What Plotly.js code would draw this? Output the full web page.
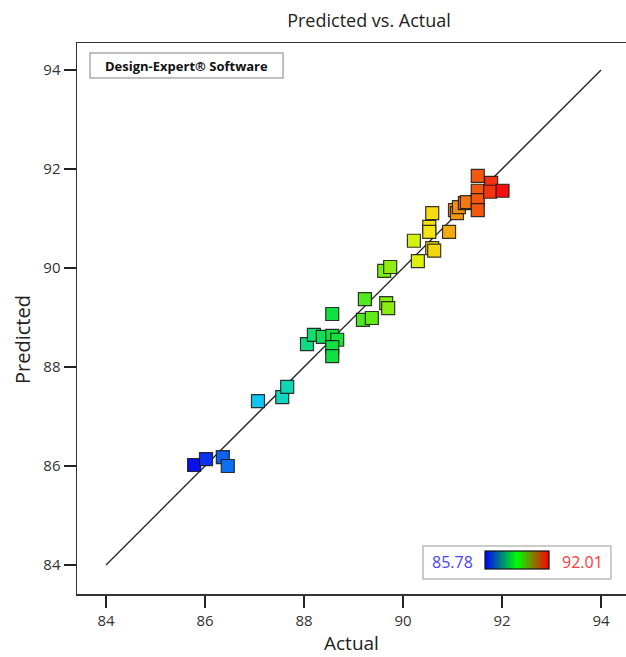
<!DOCTYPE html>
<html>
<head>
<meta charset="utf-8">
<script src="https://cdn.plot.ly/plotly-3.0.1.min.js"></script>
<style>
html,body{margin:0;padding:0;overflow:hidden;background:#fff;width:626px;height:657px;}
#chart{width:640px;height:657px;}
</style>
</head>
<body>
<div id="chart"></div>
<script>
// Data
const actual = [85.78, 86.02, 86.36, 86.46, 87.07, 87.56, 87.66, 88.06, 88.20, 88.38,
                88.57, 88.67, 88.57, 88.57, 88.57, 89.19, 89.37, 89.23, 89.66, 89.70,
                89.62, 89.74, 90.30, 90.22, 90.59, 90.63, 90.53, 90.53, 90.59, 90.93,
                91.05, 91.09, 91.13, 91.25, 91.29, 91.51, 91.51, 91.51, 91.51, 91.78,
                91.76, 92.01];
const predicted = [86.02, 86.14, 86.18, 86.00, 87.31, 87.39, 87.60, 88.46, 88.65, 88.61,
                   88.63, 88.55, 88.40, 88.22, 89.07, 88.95, 88.99, 89.37, 89.29, 89.19,
                   89.94, 90.02, 90.14, 90.55, 90.40, 90.35, 90.83, 90.73, 91.11, 90.73,
                   91.17, 91.11, 91.23, 91.31, 91.33, 91.86, 91.56, 91.37, 91.17, 91.72,
                   91.54, 91.56];
const diagX = [84, 94];
const diagY = [84, 94];
const tickVals = [84, 86, 88, 90, 92, 94];
const tickText = ['84', '86', '88', '90', '92', '94'];
const colorMin = 85.78;
const colorMax = 92.01;

const pointScale = [[0,'#0a10f0'],[0.22,'#10d0f4'],[0.45,'#10e040'],[0.6,'#70ee10'],[0.75,'#f4f010'],[1,'#f41010']];
const barScale = [[0,'#0000ff'],[0.5,'#00ff00'],[1,'#ff0000']];

const font = '"Open Sans", "Noto Sans", sans-serif';

const traces = [
  {
    x: diagX, y: diagY, mode: 'lines', type: 'scatter',
    line: {color: '#222', width: 1.3}, hoverinfo: 'skip', showlegend: false
  },
  {
    x: actual, y: predicted, mode: 'markers', type: 'scatter',
    marker: {
      symbol: 'square', size: 13, color: actual, cmin: colorMin, cmax: colorMax,
      colorscale: pointScale, showscale: false,
      line: {color: 'rgba(20,20,20,0.85)', width: 1.2}
    },
    showlegend: false
  },
  {
    x: [actual[0], actual[actual.length-1]], y: [predicted[0], predicted[predicted.length-1]],
    mode: 'markers', type: 'scatter', hoverinfo: 'skip', showlegend: false,
    marker: {
      size: 0.1, opacity: 0, color: [colorMin, colorMax], cmin: colorMin, cmax: colorMax,
      colorscale: barScale, showscale: true,
      colorbar: {
        orientation: 'h', x: 0.7405, xanchor: 'left', y: 0.078, yanchor: 'top',
        len: 64, lenmode: 'pixels', thickness: 18, thicknessmode: 'pixels',
        xpad: 0, ypad: 0, outlinecolor: '#111', outlinewidth: 1.2,
        showticklabels: false, ticks: '', bgcolor: 'rgba(0,0,0,0)', borderwidth: 0
      }
    }
  }
];

const axisCommon = {
  range: [83.414, 94.545], tickvals: tickVals, ticktext: tickText,
  ticks: 'outside', ticklen: 12, tickwidth: 1.3, tickcolor: '#222',
  showline: true, linecolor: '#333', linewidth: 1.5, mirror: true,
  showgrid: false, zeroline: false,
  tickfont: {family: font, size: 15, color: '#333'}
};

const layout = {
  width: 640, height: 657,
  margin: {l: 77, r: 12, t: 43, b: 63},
  paper_bgcolor: '#fff', plot_bgcolor: '#fff',
  showlegend: false,
  title: {
    text: 'Predicted vs. Actual', font: {family: font, size: 18, color: '#222'},
    x: 369/640, xref: 'container', xanchor: 'center', y: 1 - 21/657, yref: 'container', yanchor: 'middle'
  },
  xaxis: Object.assign({}, axisCommon, {title: {text: ''}}),
  yaxis: Object.assign({}, axisCommon, {title: {text: ''}}),
  shapes: [
    {type: 'rect', xref: 'paper', yref: 'paper', x0: 0.0236, x1: 0.374, y0: 0.9365, y1: 0.982,
     line: {color: '#aaa', width: 1.5}, fillcolor: '#fff', layer: 'below'},
    {type: 'rect', xref: 'paper', yref: 'paper', x0: 0.628, x1: 0.969, y0: 0.0272, y1: 0.0871,
     line: {color: '#bbb', width: 1.5}, fillcolor: '#fff', layer: 'below'}
  ],
  annotations: [
    {text: '<b>Design-Expert® Software</b>', xref: 'paper', yref: 'paper',
     x: (186-77)/551, y: (594-66)/551, xanchor: 'center', yanchor: 'middle', showarrow: false,
     font: {family: font, size: 13, color: '#111'}},
    {text: '85.78', xref: 'paper', yref: 'paper', x: (452-77)/551, y: (594-562)/551,
     xanchor: 'center', yanchor: 'middle', showarrow: false,
     font: {family: font, size: 16, color: '#4646ff'}},
    {text: '92.01', xref: 'paper', yref: 'paper', x: (582-77)/551, y: (594-562)/551,
     xanchor: 'center', yanchor: 'middle', showarrow: false,
     font: {family: font, size: 16, color: '#ff3a3a'}},
    {text: 'Actual', xref: 'paper', yref: 'paper', x: (351-77)/551, y: (594-643)/551,
     xanchor: 'center', yanchor: 'middle', showarrow: false,
     font: {family: font, size: 19, color: '#222'}},
    {text: 'Predicted', xref: 'paper', yref: 'paper', x: (22-77)/551, y: (594-340)/551,
     xanchor: 'center', yanchor: 'middle', showarrow: false, textangle: -90,
     font: {family: font, size: 20, color: '#222'}}
  ]
};

Plotly.newPlot('chart', traces, layout, {displayModeBar: false, staticPlot: true});
</script>
</body>
</html>
